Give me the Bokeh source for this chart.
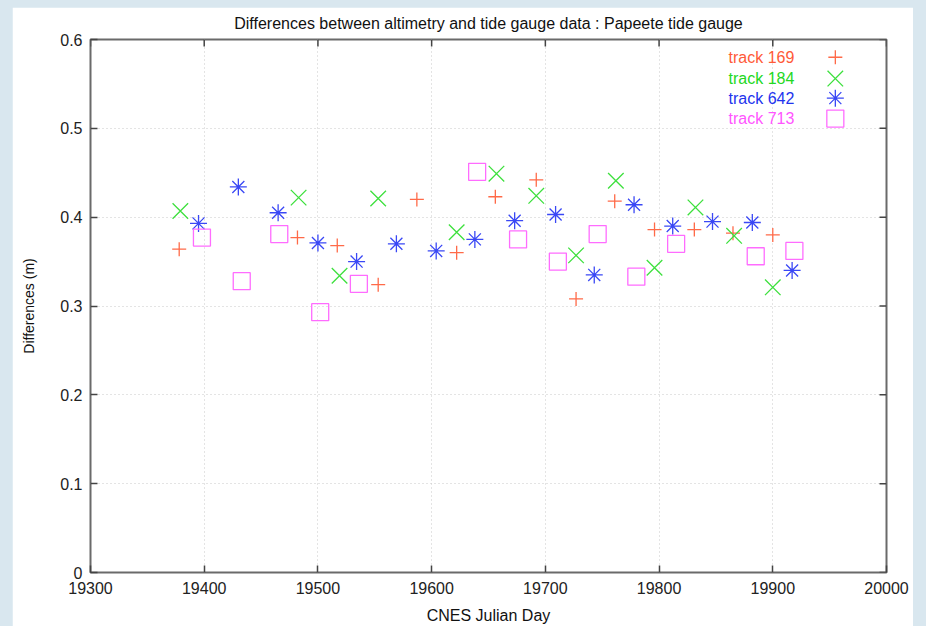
import math
from bokeh.plotting import figure
from bokeh.models import Range1d, FixedTicker, GlobalInlineStyleSheet
from bokeh.core.properties import value
from bokeh.embed import file_html
from bokeh.resources import INLINE

# ---- data ----
T169_x = [19378, 19482, 19517, 19553, 19587, 19622, 19656, 19692, 19727, 19761, 19796, 19831, 19865, 19900]
T169_y = [0.364, 0.377, 0.368, 0.324, 0.420, 0.360, 0.423, 0.442, 0.308, 0.418, 0.386, 0.386, 0.382, 0.380]
T184_x = [19379, 19483, 19519, 19553, 19622, 19657, 19692, 19727, 19762, 19796, 19832, 19866, 19900]
T184_y = [0.407, 0.422, 0.334, 0.421, 0.383, 0.449, 0.424, 0.357, 0.441, 0.343, 0.411, 0.379, 0.321]
T642_x = [19395, 19430, 19465, 19500, 19534, 19569, 19604, 19638, 19673, 19709, 19743, 19778, 19812, 19847, 19882, 19917]
T642_y = [0.393, 0.434, 0.405, 0.371, 0.350, 0.370, 0.362, 0.375, 0.396, 0.403, 0.335, 0.414, 0.390, 0.395, 0.394, 0.340]
T713_x = [19398, 19433, 19466, 19502, 19536, 19640, 19676, 19711, 19746, 19780, 19815, 19885, 19919]
T713_y = [0.377, 0.328, 0.381, 0.293, 0.325, 0.451, 0.375, 0.350, 0.381, 0.333, 0.370, 0.356, 0.362]

TITLE = "Differences between altimetry and tide gauge data : Papeete tide gauge"
SERIES_LABELS = ["track 169", "track 184", "track 642", "track 713"]
X_TICKS = [19300, 19400, 19500, 19600, 19700, 19800, 19900, 20000]
Y_TICKS = [0, 0.1, 0.2, 0.3, 0.4, 0.5, 0.6]
Y_TICK_LABELS = ["0", "0.1", "0.2", "0.3", "0.4", "0.5", "0.6"]

FONT = "Liberation Sans"
COLORS = ["#ff6a48", "#3ee03e", "#3a48f5", "#ff6cff"]
TEXT_COLORS = ["#ff5a38", "#22d822", "#2233ee", "#ff55ff"]
MARKERS = ["cross", "x", "asterisk", "square"]
SIZES = [14, 22, 17, 17]

p = figure(width=901, height=619, output_backend="svg", toolbar_location=None,
           x_range=Range1d(19300, 20000), y_range=Range1d(0, 0.6),
           min_border_left=78, min_border_right=27, min_border_top=32, min_border_bottom=54,
           title=TITLE)
p.stylesheets = [GlobalInlineStyleSheet(
    css="html,body{background:#d9e7ef !important;} body{padding:7px 0 0 12px !important;}")]

p.title.align = "center"
p.title.text_font = FONT
p.title.text_font_size = "16px"
p.title.text_font_style = "normal"
p.title.text_color = "#111111"
p.title.offset = 0
p.title.standoff = 12
p.title.vertical_align = "top"

p.background_fill_color = "white"
p.border_fill_color = "white"
p.outline_line_color = "#6a6a6a"
p.outline_line_width = 2

p.xaxis.ticker = FixedTicker(ticks=X_TICKS)
p.yaxis.ticker = FixedTicker(ticks=Y_TICKS)
p.yaxis.major_label_overrides = {t: l for t, l in zip(Y_TICKS, Y_TICK_LABELS)}

for ax in (p.xaxis[0], p.yaxis[0]):
    ax.axis_line_color = None
    ax.major_tick_in = 7
    ax.major_tick_out = 0
    ax.major_tick_line_color = "#444444"
    ax.major_tick_line_width = 1.5
    ax.minor_tick_line_color = None
    ax.major_label_text_font = FONT
    ax.major_label_text_font_size = "16px"
    ax.major_label_text_color = "#222222"
    ax.axis_label_text_font = FONT
    ax.axis_label_text_font_style = "normal"
    ax.axis_label_text_color = "#111111"

p.xaxis.axis_label = "CNES Julian Day"
p.yaxis.axis_label = "Differences (m)"
p.xaxis.axis_label_text_font_size = "16px"
p.yaxis.axis_label_text_font_size = "14px"
p.xaxis.major_label_standoff = 9
p.xaxis.axis_label_standoff = 10
p.yaxis.major_label_standoff = 8
p.yaxis.axis_label_standoff = 20

# inward ticks mirrored on the top and right edges
p.ray(x=X_TICKS, y=[Y_TICKS[-1]] * len(X_TICKS), length=7, length_units="screen",
      angle=-math.pi / 2, line_color="#444444", line_width=1.5)
p.ray(x=[X_TICKS[-1]] * len(Y_TICKS), y=Y_TICKS, length=7, length_units="screen",
      angle=math.pi, line_color="#444444", line_width=1.5)

p.xgrid.ticker = FixedTicker(ticks=X_TICKS)
p.ygrid.ticker = FixedTicker(ticks=Y_TICKS)
for g in (p.xgrid[0], p.ygrid[0]):
    g.grid_line_color = "#c8c8c8"
    g.grid_line_dash = "1 3"
    g.grid_line_width = 1

series = [(T169_x, T169_y), (T184_x, T184_y), (T642_x, T642_y), (T713_x, T713_y)]
for (xs, ys), m, c, s in zip(series, MARKERS, COLORS, SIZES):
    p.scatter(xs, ys, marker=m, size=s, line_color=c, fill_color=None, line_width=1.3)

# legend (gnuplot style: label right-aligned, symbol to its right)
LEG_TEXT_X = 19919
LEG_KEY_X = 19955
LEG_Y = [0.580, 0.556, 0.534, 0.511]
for lab, ly, m, c, tc, s in zip(SERIES_LABELS, LEG_Y, MARKERS, COLORS, TEXT_COLORS, SIZES):
    p.text(x=[LEG_TEXT_X], y=[ly], text=[lab], text_align="right", text_baseline="middle",
           text_font=value(FONT), text_font_size="16px", text_color=tc)
    p.scatter([LEG_KEY_X], [ly], marker=m, size=s, line_color=c, fill_color=None, line_width=1.3)

open("out.html", "w").write(file_html(p, INLINE))
